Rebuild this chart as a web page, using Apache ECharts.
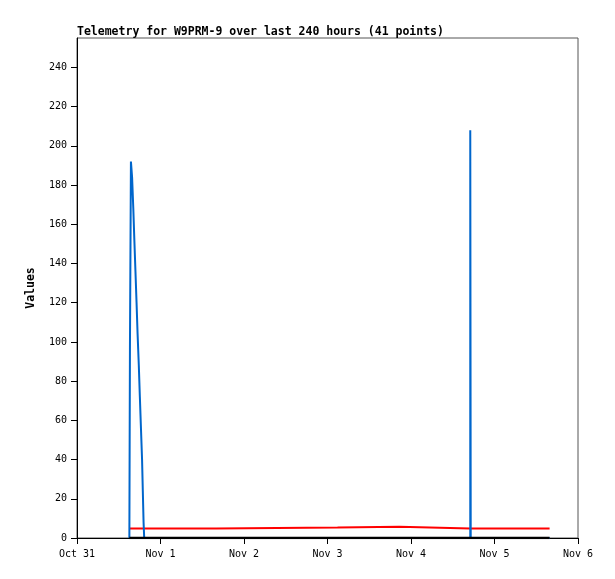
<!DOCTYPE html>
<html>
<head>
<meta charset="utf-8">
<script src="https://cdn.jsdelivr.net/npm/echarts@6/dist/echarts.min.js"></script>
<style>html,body{margin:0;padding:0;background:#fff}#c{width:615px;height:579px}</style>
</head>
<body>
<div id="c"></div>
<script>
// Sample timestamps (UTC) shared by the three series
var times = [
  '2024-10-31T15:03Z','2024-10-31T15:13Z','2024-10-31T15:30Z','2024-10-31T15:50Z',
  '2024-10-31T16:11Z','2024-10-31T16:29Z','2024-10-31T16:48Z','2024-10-31T17:07Z',
  '2024-10-31T17:25Z','2024-10-31T17:46Z','2024-10-31T18:04Z','2024-10-31T18:23Z',
  '2024-10-31T18:42Z','2024-10-31T18:55Z','2024-10-31T19:08Z','2024-10-31T19:19Z',
  '2024-11-01T16:00Z','2024-11-03T02:53Z','2024-11-03T20:38Z','2024-11-04T17:02Z',
  '2024-11-04T17:10Z','2024-11-05T15:50Z'
];
var blueValues  = [0, 96, 192, 184, 168, 152, 136, 120, 104, 88, 72, 56, 40, 24, 8, 0, 0, 0, 0, 208, 0, 0];
var redValues   = [4.8,4.8,4.8,4.8,4.8,4.8,4.8,4.8,4.8,4.8,4.8,4.8,4.8,4.8,4.8,4.8,5.3,5.8,4.8,4.8,4.8,4.8];
var blackValues = [0,0,0,0,0,0,0,0,0,0,0,0,0,0,0,0,0,0,0,0,0,0];
var yTicks = [0,20,40,60,80,100,120,140,160,180,200,220,240];
var xStart = '2024-10-31T00:00Z', xEnd = '2024-11-06T00:00Z';
var monthNames = ['Jan','Feb','Mar','Apr','May','Jun','Jul','Aug','Sep','Oct','Nov','Dec'];

function pairs(vals){ return times.map(function(t,i){ return [Date.parse(t), vals[i]]; }); }
var DAY = 86400000;
var font = 'DejaVu Sans Mono';

var chart = echarts.init(document.getElementById('c'), null, {renderer:'canvas'});
chart.setOption({
  animation: false,
  title: {
    text: 'Telemetry for W9PRM-9 over last 240 hours (41 points)',
    left: 72, top: 21,
    textStyle: {fontFamily: font, fontSize: 11.5, fontWeight: 'bold', color: '#000'}
  },
  grid: {left: 77, right: 37, top: 38, bottom: 41, show: true, borderColor: '#555', borderWidth: 1},
  xAxis: {
    type: 'value',
    min: Date.parse(xStart), max: Date.parse(xEnd), interval: DAY,
    axisLine: {show: true, lineStyle: {color: '#000', width: 1}},
    axisTick: {show: true, length: 6, lineStyle: {color: '#000'}},
    splitLine: {show: false},
    axisLabel: {
      margin: 11, color: '#000', fontFamily: font, fontSize: 10,
      formatter: function(v){ var d = new Date(v); return monthNames[d.getUTCMonth()] + ' ' + d.getUTCDate(); }
    }
  },
  yAxis: {
    type: 'value', min: 0, max: 255, interval: 20,
    name: 'Values', nameLocation: 'middle', nameGap: 40, nameRotate: 90,
    nameTextStyle: {fontFamily: font, fontSize: 11.5, fontWeight: 'bold', color: '#000'},
    axisLine: {show: true, lineStyle: {color: '#000', width: 1}},
    axisTick: {show: true, length: 6, lineStyle: {color: '#000'}, customValues: yTicks},
    splitLine: {show: false},
    axisLabel: {margin: 10, color: '#000', fontFamily: font, fontSize: 10, customValues: yTicks}
  },
  series: [
    {type: 'line', step: 'end', data: pairs(redValues), showSymbol: false, lineStyle: {color: '#ff0000', width: 2}, z: 2},
    {type: 'line', step: 'end', data: pairs(blueValues), showSymbol: false, lineStyle: {color: '#0066cc', width: 2}, z: 3},
    {type: 'line', step: 'end', data: pairs(blackValues), showSymbol: false, lineStyle: {color: '#000000', width: 2.5}, z: 4}
  ]
});
</script>
</body>
</html>
